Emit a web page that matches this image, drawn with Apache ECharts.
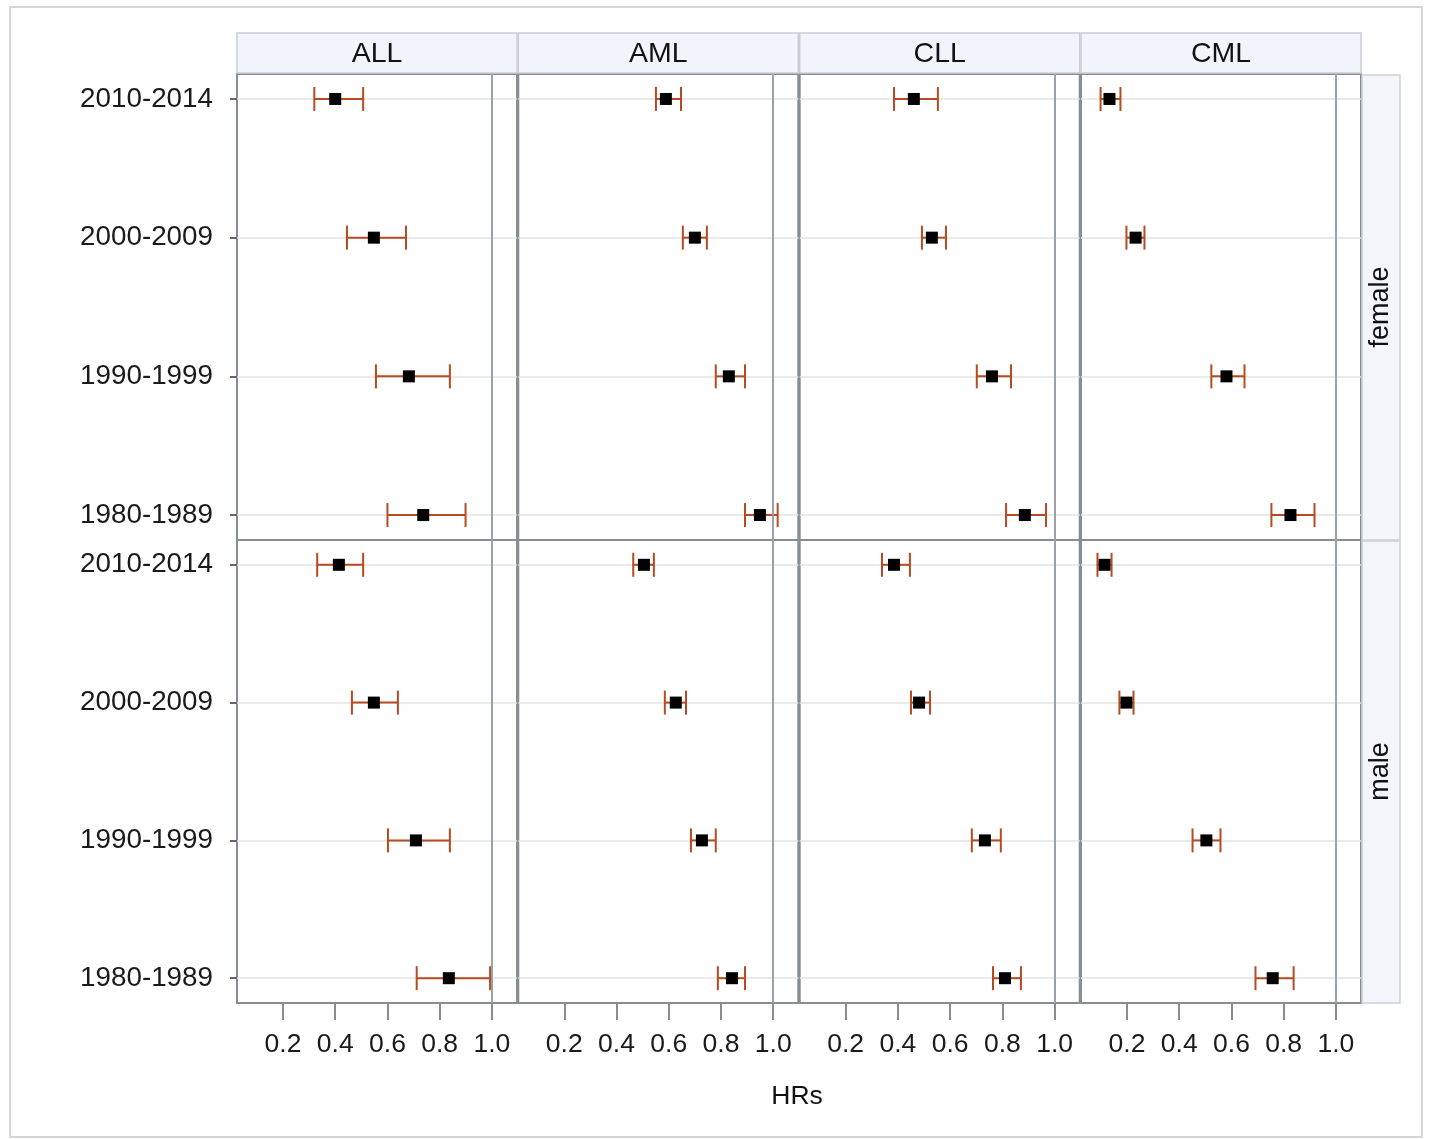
<!DOCTYPE html>
<html><head><meta charset="utf-8">
<script src="https://cdn.jsdelivr.net/npm/echarts@6/dist/echarts.min.js"></script>
<style>html,body{margin:0;padding:0;background:#fff}#c{width:1430px;height:1139px}</style>
</head><body><div id="c"></div>
<script>
const periods = ['2010-2014', '2000-2009', '1990-1999', '1980-1989'];
const diseases = ['ALL', 'AML', 'CLL', 'CML'];
const sexes = ['female', 'male'];
const xTicks = [0.2, 0.4, 0.6, 0.8, 1.0];
const refValue = 1.0;

// Hazard ratios and 95% CI per period (order as in periods)
const hr_female_ALL = [0.400, 0.548, 0.682, 0.737];
const lo_female_ALL = [0.320, 0.445, 0.556, 0.600];
const hi_female_ALL = [0.507, 0.671, 0.839, 0.899];
const hr_male_ALL   = [0.414, 0.548, 0.709, 0.835];
const lo_male_ALL   = [0.331, 0.464, 0.602, 0.712];
const hi_male_ALL   = [0.507, 0.640, 0.839, 0.993];

const hr_female_AML = [0.589, 0.700, 0.830, 0.949];
const lo_female_AML = [0.551, 0.654, 0.780, 0.892];
const hi_female_AML = [0.647, 0.746, 0.892, 1.017];
const hr_male_AML   = [0.505, 0.627, 0.727, 0.842];
const lo_male_AML   = [0.464, 0.585, 0.685, 0.788];
const hi_male_AML   = [0.543, 0.666, 0.780, 0.892];

const hr_female_CLL = [0.461, 0.530, 0.760, 0.886];
const lo_female_CLL = [0.385, 0.492, 0.702, 0.814];
const hi_female_CLL = [0.553, 0.584, 0.833, 0.967];
const hr_male_CLL   = [0.385, 0.481, 0.733, 0.810];
const lo_male_CLL   = [0.339, 0.450, 0.683, 0.764];
const hi_male_CLL   = [0.446, 0.523, 0.794, 0.871];

const hr_female_CML = [0.133, 0.233, 0.581, 0.826];
const lo_female_CML = [0.099, 0.198, 0.523, 0.753];
const hi_female_CML = [0.175, 0.267, 0.650, 0.918];
const hr_male_CML   = [0.114, 0.198, 0.504, 0.758];
const lo_male_CML   = [0.087, 0.171, 0.451, 0.692];
const hi_male_CML   = [0.141, 0.225, 0.558, 0.838];

const DATA = {
  female: {
    ALL: [hr_female_ALL, lo_female_ALL, hi_female_ALL],
    AML: [hr_female_AML, lo_female_AML, hi_female_AML],
    CLL: [hr_female_CLL, lo_female_CLL, hi_female_CLL],
    CML: [hr_female_CML, lo_female_CML, hi_female_CML]
  },
  male: {
    ALL: [hr_male_ALL, lo_male_ALL, hi_male_ALL],
    AML: [hr_male_AML, lo_male_AML, hi_male_AML],
    CLL: [hr_male_CLL, lo_male_CLL, hi_male_CLL],
    CML: [hr_male_CML, lo_male_CML, hi_male_CML]
  }
};

const FONT = "'Liberation Sans', Arial, sans-serif";
const ERR_COLOR = '#b94a1f';
const FRAME = '#878e93';
const colLeft = [237, 518.3, 799.7, 1081];
const panelW = 280;
const rowTop = [74, 540];
const rowH = [466, 463];

const chart = echarts.init(document.getElementById('c'));

function renderErr(params, api) {
  const y = api.value(0), lo = api.value(1), hi = api.value(2);
  const p1 = api.coord([lo, y]), p2 = api.coord([hi, y]);
  const h = 12;
  const style = { stroke: ERR_COLOR, lineWidth: 2, fill: null };
  return {
    type: 'group', children: [
      { type: 'line', shape: { x1: p1[0], y1: p1[1], x2: p2[0], y2: p2[1] }, style },
      { type: 'line', shape: { x1: p1[0], y1: p1[1] - h, x2: p1[0], y2: p1[1] + h }, style },
      { type: 'line', shape: { x1: p2[0], y1: p2[1] - h, x2: p2[0], y2: p2[1] + h }, style }
    ]
  };
}

const grids = [], xAxes = [], yAxes = [], series = [];
sexes.forEach((sex, r) => {
  diseases.forEach((dis, c) => {
    const g = r * 4 + c;
    grids.push({
      left: colLeft[c], top: rowTop[r], width: panelW, height: rowH[r],
      show: true, borderColor: FRAME, borderWidth: 2, backgroundColor: '#fff', containLabel: false
    });
    const bottomRow = r === 1;
    xAxes.push({
      gridIndex: g, type: 'value', min: 0.024, max: 1.096, position: 'bottom',
      axisLine: { show: false, onZero: false },
      axisTick: { show: bottomRow, customValues: xTicks, length: 17, lineStyle: { color: FRAME, width: 2 } },
      axisLabel: { show: bottomRow, customValues: xTicks, formatter: v => v.toFixed(1),
        fontSize: 26.5, color: '#1a1a1a', fontFamily: FONT, margin: 28 },
      splitLine: { show: false }
    });
    const firstCol = c === 0;
    yAxes.push({
      gridIndex: g, type: 'value', inverse: true, min: -0.18, max: 3.18, position: 'left',
      axisLine: { show: false, onZero: false },
      axisTick: { show: firstCol, customValues: [0, 1, 2, 3], length: 7, lineStyle: { color: '#666', width: 2 } },
      axisLabel: { show: firstCol, customValues: [0, 1, 2, 3], formatter: v => periods[Math.round(v)] || '',
        fontSize: 27.8, color: '#1a1a1a', fontFamily: FONT, margin: 24 },
      splitLine: { show: true, lineStyle: { color: '#e3e3e3', width: 1.5 } }
    });
    const [hr, lo, hi] = DATA[sex][dis];
    series.push({
      type: 'custom', xAxisIndex: g, yAxisIndex: g,
      renderItem: renderErr,
      encode: { x: [1, 2], y: 0 },
      data: periods.map((p, i) => [i, lo[i], hi[i]]),
      z: 3,
      markLine: {
        silent: true, symbol: ['none', 'none'], label: { show: false },
        lineStyle: { color: '#9aa2a8', width: 2, type: 'solid' },
        data: [{ xAxis: refValue }], animation: false
      }
    });
    series.push({
      type: 'scatter', xAxisIndex: g, yAxisIndex: g,
      symbol: 'rect', symbolSize: 12,
      itemStyle: { color: '#000', opacity: 1 },
      data: periods.map((p, i) => [hr[i], i]),
      z: 4
    });
  });
});

const graphics = [
  { type: 'rect', shape: { x: 10, y: 7, width: 1412, height: 1130 }, style: { fill: null, stroke: '#d6d6d6', lineWidth: 2 }, z: -10 }
];
diseases.forEach((dis, c) => {
  graphics.push({ type: 'rect', shape: { x: colLeft[c], y: 33, width: panelW, height: 40 },
    style: { fill: '#f2f4fb', stroke: '#c9ced3', lineWidth: 1.5 } });
  graphics.push({ type: 'text', x: colLeft[c] + panelW / 2, y: 54,
    style: { text: dis, fontSize: 28.5, fontFamily: FONT, fill: '#111', align: 'center', verticalAlign: 'middle' } });
});
sexes.forEach((sex, r) => {
  graphics.push({ type: 'rect', shape: { x: 1362, y: rowTop[r] + 1, width: 38, height: rowH[r] - 1 },
    style: { fill: '#f3f5fb', stroke: '#cdd1d5', lineWidth: 1.5 } });
  graphics.push({ type: 'text', x: 1381, y: rowTop[r] + rowH[r] / 2, rotation: Math.PI / 2,
    style: { text: sex, fontSize: 27, fontFamily: FONT, fill: '#111', align: 'center', verticalAlign: 'middle' } });
});
graphics.push({ type: 'text', x: 797, y: 1097,
  style: { text: 'HRs', fontSize: 26.5, fontFamily: FONT, fill: '#111', align: 'center', verticalAlign: 'middle' } });

chart.setOption({
  animation: false,
  backgroundColor: '#fff',
  textStyle: { fontFamily: FONT },
  grid: grids, xAxis: xAxes, yAxis: yAxes, series,
  graphic: graphics
});
</script>
</body></html>
